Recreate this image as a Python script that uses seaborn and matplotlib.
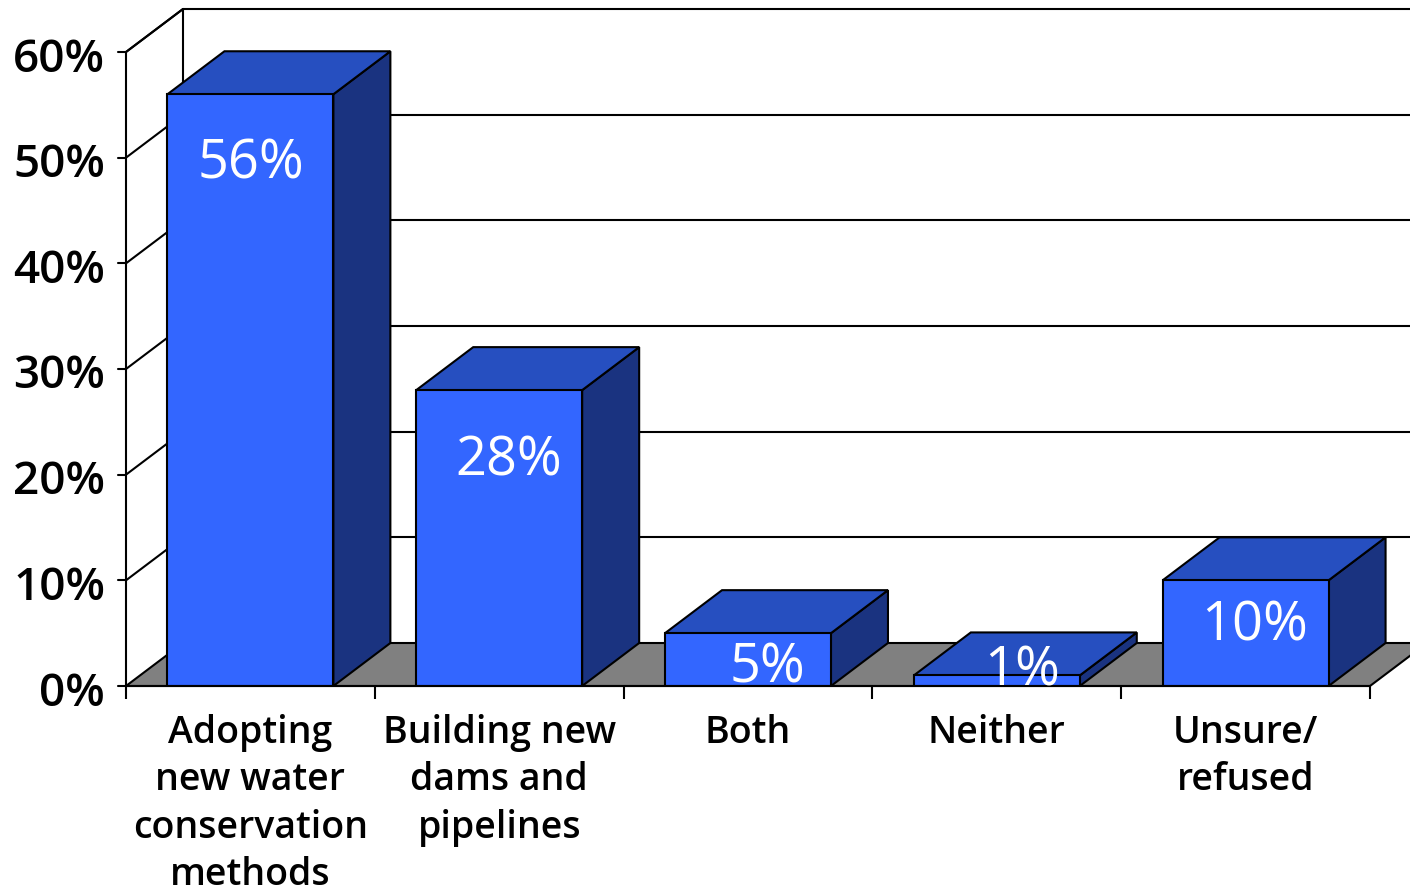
import pandas as pd
import seaborn as sns
import matplotlib
matplotlib.use("Agg")
import matplotlib.pyplot as plt
from matplotlib.patches import Polygon
from matplotlib.transforms import ScaledTranslation

categories = ["Adopting\nnew water\nconservation\nmethods", "Building new\ndams and\npipelines", "Both", "Neither", "Unsure/\nrefused"]
values = [56, 28, 5, 1, 10]
bar_labels = ["56%", "28%", "5%", "1%", "10%"]
y_ticks = [0, 10, 20, 30, 40, 50, 60]
y_labels = ["0%", "10%", "20%", "30%", "40%", "50%", "60%"]

FRONT = "#3366ff"
TOP = "#264fc0"
SIDE = "#1a3380"
FLOOR = "#808080"
INK = "#000000"

sns.set_theme(style="white")
plt.rcParams["font.family"] = ["Open Sans", "DejaVu Sans"]

W, H = 1410, 886
fig = plt.figure(figsize=(W / 100, H / 100), dpi=100)
ax = fig.add_axes([126 / W, 1 - 686 / H, 1244 / W, 634 / H])

df = pd.DataFrame({"category": categories, "value": values})
sns.barplot(data=df, x="category", y="value", color=FRONT, saturation=1, width=0.667,
            edgecolor=INK, linewidth=1.5, ax=ax, zorder=5)
ax.set_xlim(-0.5, 4.5)
ax.set_ylim(0, 60)
ax.set_xlabel("")
ax.set_ylabel("")

# depth of the fake 3d box, in data units
dx = 57 / 248.8
dy = 43 / 10.567
# label nudge from the bar's top centre, in pixels
label_nudge = [(1, -70), (10, -71), (19, -35), (25, 4), (9, -46)]


def poly(pts, color, z):
    p = Polygon(pts, closed=True, facecolor=color, edgecolor=INK, linewidth=1.5, zorder=z, clip_on=False)
    ax.add_patch(p)


# floor and walls
x0, x1 = -0.5, 4.5
poly([(x0, 0), (x0 + dx, dy), (x1 + dx, dy), (x1, 0)], FLOOR, 1)
ax.plot([x0 + dx, x0 + dx], [dy, 60 + dy], color=INK, lw=1.5, clip_on=False, zorder=1)
ax.plot([x0, x0 + dx], [60, 60 + dy], color=INK, lw=1.5, clip_on=False, zorder=1)
for t in y_ticks[1:]:
    ax.plot([x0, x0 + dx], [t, t + dy], color=INK, lw=1.5, clip_on=False, zorder=1)
    ax.plot([x0 + dx, x1 + dx], [t + dy, t + dy], color=INK, lw=1.5, clip_on=False, zorder=1)
ax.plot([x0, x0], [0, 60], color=INK, lw=1.5, clip_on=False, zorder=2)
ax.plot([x0, x1], [0, 0], color=INK, lw=1.5, clip_on=False, zorder=6)

# bar sides, tops and value labels
for i, v in enumerate(values):
    left, right = i - 0.3335, i + 0.3335
    poly([(right, 0), (right + dx, dy), (right + dx, v + dy), (right, v)], SIDE, 3)
    poly([(left, v), (left + dx, v + dy), (right + dx, v + dy), (right, v)], TOP, 3)
    nx, ny = label_nudge[i]
    ax.annotate(bar_labels[i], xy=(i, v), xytext=(nx * 0.72, ny * 0.72), textcoords="offset points",
                color="white", fontsize=39, ha="center", va="center", zorder=7, annotation_clip=False)

for s in ax.spines.values():
    s.set_visible(False)
ax.set_yticks(y_ticks)
ax.set_yticklabels(y_labels, fontsize=33, color=INK, fontweight="semibold")
ax.set_xticks([0, 1, 2, 3, 4])
ax.set_xticklabels(categories, fontsize=27, color=INK, fontweight="semibold", linespacing=1.33)
ax.set_xticks([-0.5, 0.5, 1.5, 2.5, 3.5, 4.5], minor=True)
ax.tick_params(axis="y", left=True, length=0, pad=15)
ax.tick_params(axis="x", which="major", bottom=False, length=0, pad=20)
ax.tick_params(axis="x", which="minor", bottom=True, length=9, width=1.5, color=INK)
for t in y_ticks:
    ax.plot([x0 - 8 / 248.8, x0], [t, t], color=INK, lw=1.5, clip_on=False)

# y labels sit a little under their ticks
shift = ScaledTranslation(0, -2.5 / 100, fig.dpi_scale_trans)
for lab in ax.get_yticklabels():
    lab.set_transform(lab.get_transform() + shift)

fig.savefig("out.png", dpi=100)
